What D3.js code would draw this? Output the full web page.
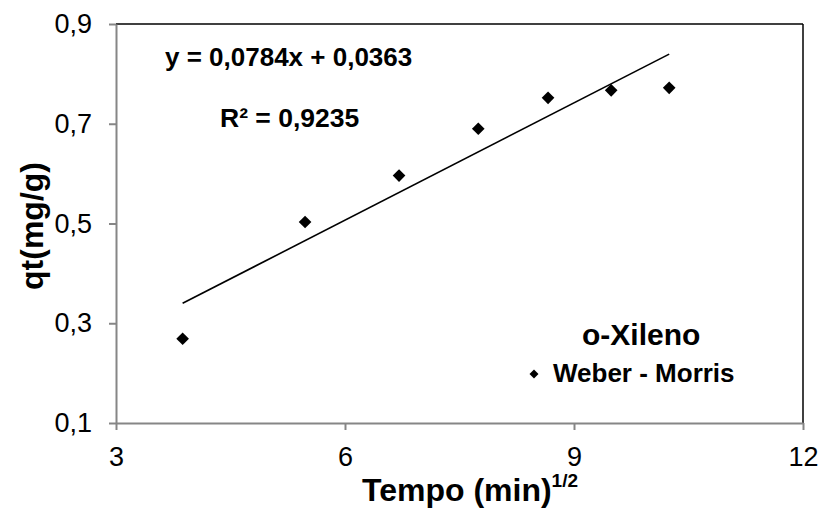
<!DOCTYPE html>
<html><head><meta charset="utf-8">
<script src="https://cdn.jsdelivr.net/npm/d3@7"></script>
<style>body{margin:0;background:#fff}svg{display:block}text{font-family:"Liberation Sans",Arial,sans-serif}</style>
</head><body>
<svg id="c" width="823" height="511"></svg>
<script>
const xValues = [3.873, 5.477, 6.708, 7.746, 8.660, 9.487, 10.247];
const qtValues = [0.269, 0.503, 0.596, 0.690, 0.752, 0.767, 0.772];
const xTicks = [3, 6, 9, 12];
const yTicks = [0.1, 0.3, 0.5, 0.7, 0.9];
const trendSlope = 0.0784, trendIntercept = 0.0363;
const equationLabel = "y = 0,0784x + 0,0363";
const r2Label = "R² = 0,9235";
const xTitle = "Tempo (min)", xTitleSup = "1/2";
const yTitle = "qt(mg/g)";
const legendTitle = "o-Xileno", seriesName = "Weber - Morris";

const svg = d3.select("#c");
const L = 116, R = 803, T = 24, B = 423;
const x = d3.scaleLinear().domain([3, 12]).range([L, R]);
const y = d3.scaleLinear().domain([0.1, 0.9]).range([B, T]);
const fmt = d => String(d).replace(".", ",");
const axisGray = "#868686";

// frame top/right
svg.append("line").attr("x1", L).attr("x2", R).attr("y1", T).attr("y2", T).attr("stroke", "#000").attr("stroke-width", 1.5);
svg.append("line").attr("x1", R).attr("x2", R).attr("y1", T).attr("y2", B).attr("stroke", "#000").attr("stroke-width", 1.5);

const gx = svg.append("g").attr("transform", `translate(0,${B})`)
  .call(d3.axisBottom(x).tickValues(xTicks).tickFormat(fmt).tickSizeOuter(0).tickSizeInner(7).tickPadding(17));
const gy = svg.append("g").attr("transform", `translate(${L},0)`)
  .call(d3.axisLeft(y).tickValues(yTicks).tickFormat(fmt).tickSizeOuter(0).tickSizeInner(7).tickPadding(17));
[gx, gy].forEach(g => {
  g.attr("font-size", 27).attr("font-family", "Liberation Sans, Arial, sans-serif");
  g.select(".domain").attr("stroke", axisGray).attr("stroke-width", 2);
  g.selectAll(".tick line").attr("stroke", axisGray).attr("stroke-width", 2);
  g.selectAll(".tick text").attr("fill", "#000");
});

// trendline
const x0 = d3.min(xValues), x1 = d3.max(xValues);
svg.append("line")
  .attr("x1", x(x0)).attr("y1", y(trendSlope * x0 + trendIntercept))
  .attr("x2", x(x1)).attr("y2", y(trendSlope * x1 + trendIntercept))
  .attr("stroke", "#000").attr("stroke-width", 1.6);

// points
const diamond = d3.symbol().type(d3.symbolSquare).size(80);
svg.selectAll("path.pt").data(xValues).join("path").attr("class", "pt")
  .attr("d", diamond)
  .attr("transform", (d, i) => `translate(${x(d)},${y(qtValues[i])}) rotate(45)`)
  .attr("fill", "#000");

// equation
svg.append("text").attr("x", 165).attr("y", 66).attr("font-size", 26).attr("font-weight", "bold").text(equationLabel);
svg.append("text").attr("x", 220).attr("y", 127).attr("font-size", 26.5).attr("font-weight", "bold").text(r2Label);

// axis titles
const xt = svg.append("text").attr("x", 362).attr("y", 501).attr("font-size", 32).attr("font-weight", "bold");
xt.append("tspan").text(xTitle);
xt.append("tspan").attr("font-size", 19).attr("dy", -14).text(xTitleSup);
svg.append("text").attr("transform", "translate(43,226) rotate(-90)").attr("text-anchor", "middle")
  .attr("font-size", 32).attr("font-weight", "bold").text(yTitle);

// legend
svg.append("text").attr("x", 582).attr("y", 345).attr("font-size", 30).attr("font-weight", "bold").text(legendTitle);
svg.append("path").attr("d", d3.symbol().type(d3.symbolSquare).size(40)).attr("transform", "translate(534,374) rotate(45)").attr("fill", "#000");
svg.append("text").attr("x", 553).attr("y", 382).attr("font-size", 26).attr("font-weight", "bold").text(seriesName);
</script>
</body></html>
